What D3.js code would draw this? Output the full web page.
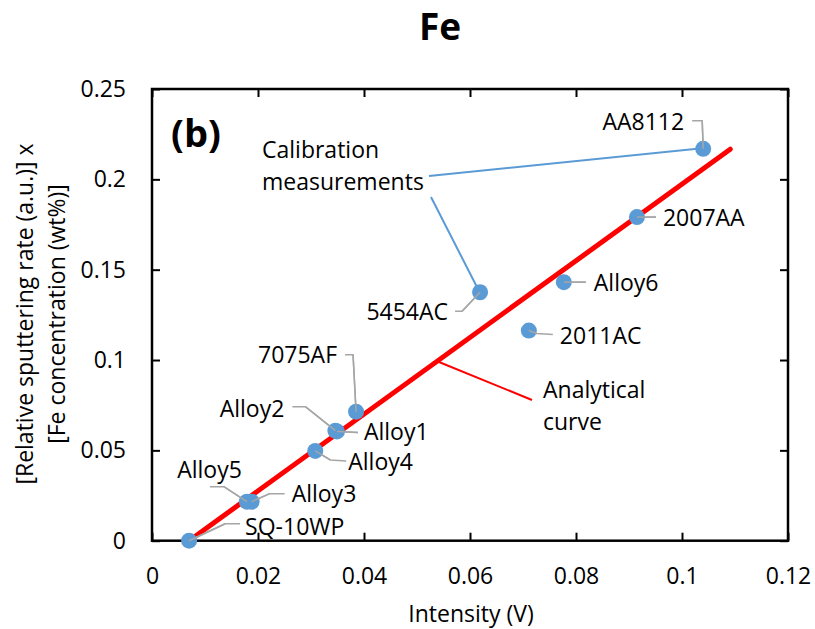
<!DOCTYPE html>
<html>
<head>
<meta charset="utf-8">
<script src="https://cdn.jsdelivr.net/npm/d3@7"></script>
<style>
  html, body { margin: 0; padding: 0; background: #fff; }
  svg { display: block; }
  text { font-family: "Open Sans", sans-serif; fill: #000; }
</style>
</head>
<body>
<svg id="chart" width="815" height="629"></svg>
<script>
// Calibration samples: intensity (V) vs relative sputtering rate x Fe concentration
const sampleNames = ["SQ-10WP", "Alloy5", "Alloy3", "Alloy4", "Alloy2", "Alloy1",
                     "7075AF", "5454AC", "2011AC", "Alloy6", "2007AA", "AA8112"];
const intensity   = [0.0070, 0.0179, 0.0188, 0.0308, 0.0346, 0.0349,
                     0.0385, 0.0619, 0.0711, 0.0777, 0.0915, 0.1040];
const sputterConc = [0.0000, 0.0216, 0.0216, 0.0497, 0.0609, 0.0605,
                     0.0714, 0.1375, 0.1163, 0.1431, 0.1791, 0.2169];

// Analytical curve end points
const curveX = [0.0070, 0.1091];
const curveY = [0.0000, 0.2167];

// Axis ticks
const xTicks = [0, 0.02, 0.04, 0.06, 0.08, 0.1, 0.12];
const yTicks = [0, 0.05, 0.1, 0.15, 0.2, 0.25];

// Label placement for each sample: text offset from the marker, anchor,
// and the leader polyline (offsets from the marker centre)
const labelLayout = {
  "SQ-10WP": { dx: 56,  dy: -6,  anchor: "start", leader: [[0,0],[36,-17],[51,-17]] },
  "Alloy5":  { dx: -5,  dy: -24, anchor: "end",   leader: [[0,0],[-23,-15],[-37,-15]] },
  "Alloy3":  { dx: 40,  dy: 0,   anchor: "start", leader: [[0,0],[18,-8],[33,-8]] },
  "Alloy4":  { dx: 33,  dy: 19,  anchor: "start", leader: [[0,0],[15,9],[31,10]] },
  "Alloy2":  { dx: -51, dy: -14, anchor: "end",   leader: [[0,0],[-30,-24],[-43,-24]] },
  "Alloy1":  { dx: 27,  dy: 9,   anchor: "start", leader: [[0,0],[21,1]] },
  "7075AF":  { dx: -19, dy: -49, anchor: "end",   leader: [[0,0],[-3,-57],[-11,-57]] },
  "5454AC":  { dx: -32, dy: 28,  anchor: "end",   leader: [[0,0],[-18,19],[-25,19]] },
  "2011AC":  { dx: 31,  dy: 13,  anchor: "start", leader: [[0,0],[8,3],[24,4]] },
  "Alloy6":  { dx: 30,  dy: 9,   anchor: "start", leader: [[0,0],[22,0]] },
  "2007AA":  { dx: 26,  dy: 9,   anchor: "start", leader: [[0,0],[19,0]] },
  "AA8112":  { dx: -19, dy: -19, anchor: "end",   leader: [[0,0],[-1,-28],[-11,-28]] }
};

const svg = d3.select("#chart");
const plot = { left: 152, right: 788, top: 89, bottom: 540.7 };

const x = d3.scaleLinear().domain([0, 0.12]).range([plot.left, plot.right]);
const y = d3.scaleLinear().domain([0, 0.25]).range([plot.bottom, plot.top]);

const tickLen = 8;
const fontSize = "23px";
const fmt = d => d === 0 ? "0" : String(+d.toFixed(2));

// Title
svg.append("text")
  .attr("x", 440).attr("y", 40)
  .attr("text-anchor", "middle")
  .style("font-size", "37px").style("font-weight", "bold")
  .text("Fe");

// Axes with inward ticks on all four sides
const axisStyle = g => {
  g.select(".domain").remove();
  g.selectAll(".tick line").attr("stroke", "#000").attr("stroke-width", 2);
  g.selectAll(".tick text").style("font-size", fontSize).style("font-family", "'Open Sans', sans-serif");
};

svg.append("g")
  .attr("transform", `translate(0,${plot.bottom})`)
  .call(d3.axisBottom(x).tickValues(xTicks).tickFormat(fmt).tickSizeInner(-tickLen).tickSizeOuter(0).tickPadding(27))
  .call(axisStyle);

svg.append("g")
  .attr("transform", `translate(0,${plot.top})`)
  .call(d3.axisTop(x).tickValues(xTicks).tickFormat("").tickSizeInner(-tickLen).tickSizeOuter(0))
  .call(axisStyle);

svg.append("g")
  .attr("transform", `translate(${plot.left},0)`)
  .call(d3.axisLeft(y).tickValues(yTicks).tickFormat(fmt).tickSizeInner(-tickLen).tickSizeOuter(0).tickPadding(26))
  .call(axisStyle);

svg.append("g")
  .attr("transform", `translate(${plot.right},0)`)
  .call(d3.axisRight(y).tickValues(yTicks).tickFormat("").tickSizeInner(-tickLen).tickSizeOuter(0))
  .call(axisStyle);

// Plot frame
svg.append("rect")
  .attr("x", plot.left).attr("y", plot.top)
  .attr("width", plot.right - plot.left).attr("height", plot.bottom - plot.top)
  .attr("fill", "none").attr("stroke", "#000").attr("stroke-width", 2.5);

// Axis titles
svg.append("text")
  .attr("x", 471).attr("y", 622)
  .attr("text-anchor", "middle")
  .style("font-size", fontSize)
  .text("Intensity (V)");

const yTitle = svg.append("text")
  .attr("transform", "translate(0,314) rotate(-90)")
  .attr("text-anchor", "middle")
  .style("font-size", fontSize);
yTitle.append("tspan").attr("x", 0).attr("y", 33).text("[Relative sputtering rate (a.u.)] x");
yTitle.append("tspan").attr("x", 0).attr("y", 65).text("[Fe concentration (wt%)]");

// Analytical curve
const curve = curveX.map((v, i) => [x(v), y(curveY[i])]);
svg.append("path")
  .attr("d", d3.line()(curve))
  .attr("fill", "none").attr("stroke", "#FF0000")
  .attr("stroke-width", 5).attr("stroke-linecap", "round");

// Sample data
const samples = sampleNames.map((n, i) => ({ name: n, x: intensity[i], y: sputterConc[i] }));
const byName = Object.fromEntries(samples.map(s => [s.name, s]));

// Leader lines
svg.append("g").selectAll("path")
  .data(samples)
  .join("path")
  .attr("d", d => {
    const L = labelLayout[d.name];
    return d3.line()(L.leader.map(([a, b]) => [x(d.x) + a, y(d.y) + b]));
  })
  .attr("fill", "none").attr("stroke", "#A6A6A6").attr("stroke-width", 1.5);

// Markers
svg.append("g").selectAll("circle")
  .data(samples)
  .join("circle")
  .attr("cx", d => x(d.x)).attr("cy", d => y(d.y))
  .attr("r", 8)
  .attr("fill", "#5B9BD5");

// Leader stubs drawn over the markers
svg.append("g").selectAll("path")
  .data(samples)
  .join("path")
  .attr("d", d => {
    const L = labelLayout[d.name];
    return d3.line()(L.leader.slice(0, 2).map(([a, b]) => [x(d.x) + a, y(d.y) + b]));
  })
  .attr("fill", "none").attr("stroke", "#A6A6A6").attr("stroke-width", 1.5);

// Sample labels
svg.append("g").selectAll("text")
  .data(samples)
  .join("text")
  .attr("x", d => x(d.x) + labelLayout[d.name].dx)
  .attr("y", d => y(d.y) + labelLayout[d.name].dy)
  .attr("text-anchor", d => labelLayout[d.name].anchor)
  .style("font-size", fontSize)
  .text(d => d.name);

// Panel tag
svg.append("text")
  .attr("x", 171).attr("y", 147)
  .style("font-size", "38px").style("font-weight", "bold")
  .text("(b)");

// Calibration measurements callout
svg.append("text").attr("x", 262).attr("y", 158).style("font-size", fontSize).text("Calibration");
svg.append("text").attr("x", 262).attr("y", 190).style("font-size", fontSize).text("measurements");

const aa = byName["AA8112"], al = byName["5454AC"];
svg.append("line")
  .attr("x1", 429).attr("y1", 176)
  .attr("x2", x(aa.x) - 6).attr("y2", y(aa.y))
  .attr("stroke", "#5B9BD5").attr("stroke-width", 2);
svg.append("line")
  .attr("x1", 431).attr("y1", 197)
  .attr("x2", x(al.x) - 3).attr("y2", y(al.y) - 5)
  .attr("stroke", "#5B9BD5").attr("stroke-width", 2);

// Analytical curve callout, anchored on the curve itself
const slope = (curveY[1] - curveY[0]) / (curveX[1] - curveX[0]);
const calloutX = 0.0538;
svg.append("line")
  .attr("x1", x(calloutX)).attr("y1", y(curveY[0] + slope * (calloutX - curveX[0])))
  .attr("x2", 532).attr("y2", 400)
  .attr("stroke", "#FF0000").attr("stroke-width", 2);
svg.append("text").attr("x", 543).attr("y", 398).style("font-size", fontSize).text("Analytical");
svg.append("text").attr("x", 543).attr("y", 430).style("font-size", fontSize).text("curve");
</script>
</body>
</html>
